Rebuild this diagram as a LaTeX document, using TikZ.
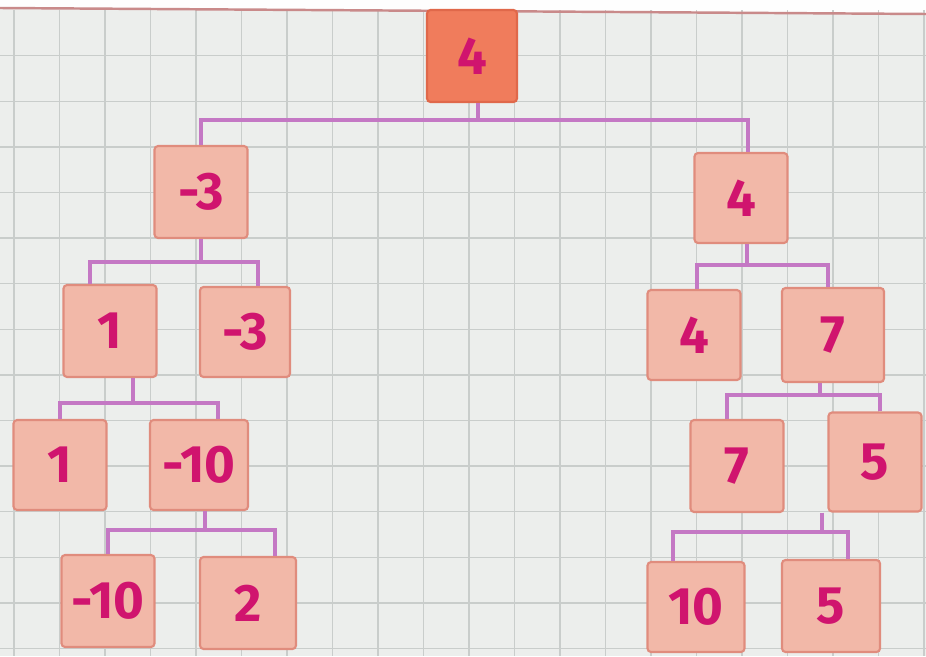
\documentclass[tikz,border=0pt]{standalone}
\usepackage{fontspec}
\setsansfont{Fira Sans}
\usepackage{tikz}
\usetikzlibrary{positioning}

\definecolor{paper}{HTML}{ECEEEC}
\definecolor{gridline}{HTML}{C9CDCB}
\definecolor{marginred}{HTML}{C98A8A}
\definecolor{boxfill}{HTML}{F2B8A8}
\definecolor{boxedge}{HTML}{E08C7D}
\definecolor{rootfill}{HTML}{F07C5C}
\definecolor{rootedge}{HTML}{E0684A}
\definecolor{linkcol}{HTML}{C478C4}
\definecolor{digitcol}{HTML}{D0146E}

\begin{document}
\begin{tikzpicture}[
    x=0.02cm, y=-0.02cm,
    val/.style={
      draw=boxedge,
      fill=boxfill,
      line width=1.2pt,
      rounded corners=2pt,
      minimum width=1.86cm,
      minimum height=1.84cm,
      inner sep=0pt,
      text=digitcol,
      font=\sffamily\bfseries\fontsize{30}{30}\selectfont,
    },
    rootval/.style={
      val,
      draw=rootedge,
      fill=rootfill,
    },
    link/.style={
      draw=linkcol,
      line width=2.8pt,
    },
  ]

  % --- Paper and grid ---
  \useasboundingbox (0,0) rectangle (926,656);
  \fill[paper] (0,0) rectangle (926,656);
  \fill[white!96!paper] (0,0) -- (926,0) -- (926,14) -- (0,8) -- cycle;
  \foreach \gx in {14,59.5,...,926}
    \draw[gridline, line width=0.8pt] (\gx,10) -- (\gx,656);
  \foreach \gy in {55.6,101.2,...,656}
    \draw[gridline, line width=0.8pt] (0,\gy) -- (926,\gy);
  \draw[marginred, line width=1.4pt] (0,8) -- (926,14);

  % --- Root ---
  \node[rootval, minimum width=1.8cm] (root) at (472,56) {4};

  % --- Level 1 ---
  \node[val] (l1) at (201,192) {-3};
  \node[val, minimum height=1.8cm] (r1) at (741,198) {4};

  % --- Level 2 ---
  \node[val] (l2a) at (110,331) {1};
  \node[val, minimum width=1.8cm, minimum height=1.8cm] (l2b) at (245,332) {-3};
  \node[val, minimum height=1.8cm] (r2a) at (694,335) {4};
  \node[val, minimum width=2.04cm, minimum height=1.88cm] (r2b) at (833,335) {7};

  % --- Level 3 ---
  \node[val, minimum height=1.8cm] (l3a) at (60,465) {1};
  \node[val, minimum width=1.96cm, minimum height=1.8cm] (l3b) at (199,465) {-10};
  \node[val] (r3a) at (737,466) {7};
  \node[val, minimum height=1.98cm] (r3b) at (875,462) {5};

  % --- Level 4 ---
  \node[val] (l4a) at (108,601) {-10};
  \node[val, minimum width=1.92cm] (l4b) at (248,603) {2};
  \node[val, minimum width=1.94cm, minimum height=1.8cm] (r4a) at (696,607) {10};
  \node[val, minimum width=1.96cm] (r4b) at (831,606) {5};

  % --- Junctions (stem meets bar) ---
  \coordinate (j0) at ([xshift=0.12cm]root.south |- 0,120);
  \coordinate (jl2) at (l1.south |- 0,262);
  \coordinate (jr2) at ([xshift=0.12cm]r1.south |- 0,265);
  \coordinate (jl3) at ([xshift=0.46cm]l2a.south |- 0,403);
  \coordinate (jr3) at ([xshift=-0.26cm]r2b.south |- 0,395);
  \coordinate (jl4) at ([xshift=0.12cm]l3b.south |- 0,530);
  \coordinate (jr4) at ([xshift=-1.06cm]r3b.south |- 0,532);

  % --- Brackets ---
  \draw[link] ([xshift=0.12cm]root.south) -- (j0);
  \draw[link] (l1.north) |- (j0) -| ([xshift=0.14cm]r1.north);
  \draw[link] (l1.south) -- (jl2);
  \draw[link] ([xshift=-0.4cm]l2a.north) |- (jl2) -| ([xshift=0.26cm]l2b.north);
  \draw[link] ([xshift=0.12cm]r1.south) -- (jr2);
  \draw[link] ([xshift=0.06cm]r2a.north) |- (jr2) -| ([xshift=-0.1cm]r2b.north);

  \draw[link] ([xshift=0.46cm]l2a.south) -- (jl3);
  \draw[link] (l3a.north) |- (jl3) -| ([xshift=0.38cm]l3b.north);
  \draw[link] ([xshift=-0.26cm]r2b.south) -- (jr3);
  \draw[link] ([xshift=-0.2cm]r3a.north) |- (jr3) -| ([xshift=0.1cm]r3b.north);

  \draw[link] ([xshift=0.12cm]l3b.south) -- (jl4);
  \draw[link] (l4a.north) |- (jl4) -| ([xshift=0.54cm]l4b.north);
  \draw[link] ([xshift=-1.06cm]r3b.south) -- (jr4);
  \draw[link] ([xshift=-0.46cm]r4a.north) |- (jr4) -| ([xshift=0.34cm]r4b.north);

\end{tikzpicture}
\end{document}
